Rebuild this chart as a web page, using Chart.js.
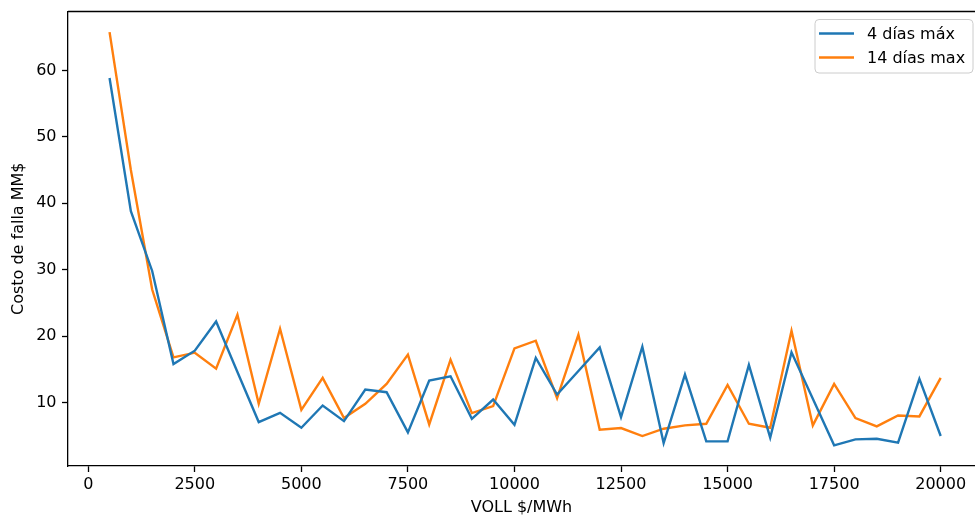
<!DOCTYPE html>
<html>
<head>
<meta charset="utf-8">
<script src="https://cdn.jsdelivr.net/npm/chart.js@4.4.1/dist/chart.umd.min.js"></script>
<style>
  html, body { margin: 0; padding: 0; background: #fff; }
  #wrap { width: 975px; height: 519px; }
</style>
</head>
<body>
<div id="wrap"><canvas id="grafico" width="975" height="519"></canvas></div>
<script>
// VOLL en $/MWh
const voll = [500, 1000, 1500, 2000, 2500, 3000, 3500, 4000, 4500, 5000,
  5500, 6000, 6500, 7000, 7500, 8000, 8500, 9000, 9500, 10000,
  10500, 11000, 11500, 12000, 12500, 13000, 13500, 14000, 14500, 15000,
  15500, 16000, 16500, 17000, 17500, 18000, 18500, 19000, 19500, 20000];

// Costo de falla MM$
const costo4dias = [58.85, 38.8, 29.8, 15.8, 17.8, 22.2, 14.6, 7.05, 8.45, 6.2,
  9.55, 7.2, 11.95, 11.55, 5.5, 13.3, 13.95, 7.55, 10.45, 6.65,
  16.7, 11.2, 14.75, 18.3, 7.8, 18.4, 3.9, 14.2, 4.15, 4.15,
  15.65, 4.7, 17.55, 10.55, 3.55, 4.45, 4.55, 3.95, 13.55, 4.95];

const costo14dias = [65.75, 45.0, 27.0, 16.8, 17.5, 15.1, 23.2, 9.8, 21.1, 8.9,
  13.7, 7.65, 9.8, 12.8, 17.2, 6.7, 16.45, 8.4, 9.45, 18.15,
  19.3, 10.65, 20.2, 5.9, 6.15, 4.95, 6.05, 6.55, 6.8, 12.65,
  6.8, 6.2, 20.8, 6.55, 12.8, 7.65, 6.4, 8.05, 7.9, 13.7];

const ticksX = [0, 2500, 5000, 7500, 10000, 12500, 15000, 17500, 20000];
const ticksY = [10, 20, 30, 40, 50, 60];

const fuente = { family: 'DejaVu Sans', size: 16 };

function puntos(ys) {
  return voll.map((v, i) => ({ x: v, y: ys[i] }));
}

// leyenda estilo matplotlib y borde superior
const extras = {
  id: 'extras',
  afterDraw(chart) {
    const ctx = chart.ctx;
    const area = chart.chartArea;
    ctx.save();
    ctx.strokeStyle = '#000';
    ctx.lineWidth = 1.3;
    ctx.beginPath();
    ctx.moveTo(area.left, area.top);
    ctx.lineTo(area.right, area.top);
    ctx.stroke();

    // caja de leyenda
    const bx = 815, by = 19.5, bw = 158, bh = 53.5, r = 4;
    ctx.beginPath();
    ctx.moveTo(bx + r, by);
    ctx.lineTo(bx + bw - r, by);
    ctx.quadraticCurveTo(bx + bw, by, bx + bw, by + r);
    ctx.lineTo(bx + bw, by + bh - r);
    ctx.quadraticCurveTo(bx + bw, by + bh, bx + bw - r, by + bh);
    ctx.lineTo(bx + r, by + bh);
    ctx.quadraticCurveTo(bx, by + bh, bx, by + bh - r);
    ctx.lineTo(bx, by + r);
    ctx.quadraticCurveTo(bx, by, bx + r, by);
    ctx.closePath();
    ctx.fillStyle = 'rgba(255,255,255,0.8)';
    ctx.fill();
    ctx.strokeStyle = '#cccccc';
    ctx.lineWidth = 1;
    ctx.stroke();

    ctx.font = '16px "DejaVu Sans"';
    ctx.textBaseline = 'middle';
    ctx.textAlign = 'left';
    const filas = [33.5, 57.5];
    chart.data.datasets.forEach((ds, i) => {
      ctx.strokeStyle = ds.borderColor;
      ctx.lineWidth = 2.4;
      ctx.beginPath();
      ctx.moveTo(819, filas[i]);
      ctx.lineTo(854, filas[i]);
      ctx.stroke();
      ctx.fillStyle = '#000';
      ctx.fillText(ds.label, 867, filas[i] + 1);
    });
    ctx.restore();
  }
};

new Chart(document.getElementById('grafico'), {
  type: 'line',
  data: {
    datasets: [{
      label: '4 días máx',
      data: puntos(costo4dias),
      borderColor: '#1f77b4',
      borderWidth: 2.4,
      pointRadius: 0,
      tension: 0,
      fill: false
    }, {
      label: '14 días max',
      data: puntos(costo14dias),
      borderColor: '#ff7f0e',
      borderWidth: 2.4,
      pointRadius: 0,
      tension: 0,
      fill: false
    }]
  },
  options: {
    responsive: false,
    animation: false,
    devicePixelRatio: 1,
    layout: { padding: { top: 11.5, right: 0, left: 0, bottom: 0 } },
    plugins: {
      legend: { display: false },
      tooltip: { enabled: false }
    },
    scales: {
      x: {
        type: 'linear',
        min: -475,
        max: 20805,
        afterBuildTicks: s => { s.ticks = ticksX.map(v => ({ value: v })); },
        afterFit: s => { s.height = 53; s.paddingLeft = 0; s.paddingRight = 0; },
        grid: { drawOnChartArea: false, drawTicks: true, tickLength: 6, tickColor: '#000', tickWidth: 1.3 },
        border: { display: true, color: '#000', width: 1.3 },
        ticks: { font: fuente, color: '#000', padding: 3, autoSkip: false, maxRotation: 0,
          callback: v => String(v) },
        title: { display: true, text: 'VOLL $/MWh', font: fuente, color: '#000', padding: { top: 0, bottom: 1.5 } }
      },
      y: {
        type: 'linear',
        min: 0.44,
        max: 68.86,
        afterBuildTicks: s => { s.ticks = ticksY.map(v => ({ value: v })); },
        afterFit: s => { s.width = 68; s.paddingTop = 0; s.paddingBottom = 0; },
        grid: { drawOnChartArea: false, drawTicks: true, tickLength: 6, tickColor: '#000', tickWidth: 1.3 },
        border: { display: true, color: '#000', width: 1.3 },
        ticks: { font: fuente, color: '#000', padding: 5.5, autoSkip: false,
          callback: v => String(v) },
        title: { display: true, text: 'Costo de falla MM$', font: fuente, color: '#000', padding: { top: 9, bottom: 0 } }
      }
    }
  },
  plugins: [extras]
});
</script>
</body>
</html>
